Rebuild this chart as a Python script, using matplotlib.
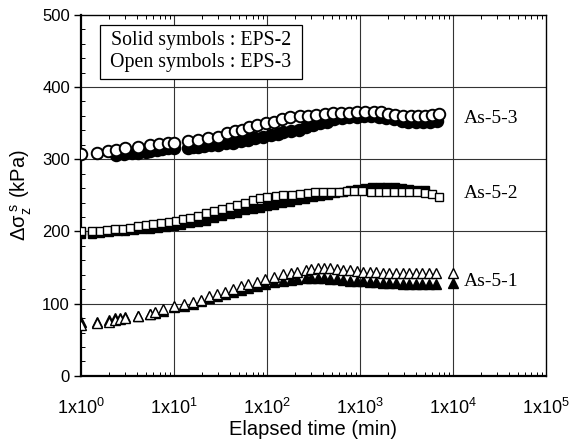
import matplotlib
matplotlib.use("Agg")
import matplotlib.pyplot as plt
from matplotlib.patches import Rectangle
from matplotlib.ticker import FixedLocator, LogLocator, MultipleLocator, NullFormatter

plt.rcParams["font.family"] = ["Liberation Sans", "DejaVu Sans"]
plt.rcParams["mathtext.fontset"] = "custom"
plt.rcParams["mathtext.rm"] = "Liberation Sans"
plt.rcParams["mathtext.it"] = "Liberation Sans:italic"
plt.rcParams["mathtext.default"] = "regular"

# ---- As-5-3 (circles) ----
t_53_eps3 = [1, 1.5, 1.95, 2.4, 3.0, 4.1, 5.5, 6.9, 8.6, 10, 14, 18, 23, 30, 37, 45, 54, 64,
             78, 98, 120, 145, 175, 225, 275, 340, 420, 510, 620, 760, 920, 1130, 1400, 1700,
             2000, 2400, 2900, 3500, 4200, 5000, 6000, 7000]
s_53_eps3 = [307, 309, 312, 313, 315, 317, 319, 321, 322, 323, 325, 327, 329, 331, 336, 339, 341, 344,
             347, 350, 351, 355, 358, 360, 360, 361, 362, 364, 364, 364, 365, 365, 366, 365,
             363, 361, 360, 360, 360, 360, 361, 362]
t_53_eps2 = [2.4, 2.9, 3.5, 4.1, 5.0, 5.5, 6.5, 7.5, 8.6, 10, 14, 16, 18, 21, 25, 30, 36, 43, 52,
             62, 75, 90, 110, 130, 150, 180, 220, 260, 310, 370, 440, 530, 640, 770, 920, 1100,
             1300, 1600, 1900, 2300, 2800, 3300, 4000, 4800, 5700, 6800]
s_53_eps2 = [306, 307, 308, 309, 310, 312, 313, 314, 315, 316, 316, 317, 317, 318, 319, 320, 322, 323, 325,
             327, 329, 331, 333, 335, 337, 339, 341, 344, 347, 350, 352, 355, 357, 358, 359, 360,
             360, 359, 357, 355, 353, 352, 351, 351, 352, 353]

# ---- As-5-2 (squares) ----
t_52_eps3 = [1, 1.3, 1.6, 1.9, 2.3, 2.8, 3.4, 4.1, 5, 6, 7.3, 8.8, 10.5, 12.5, 15, 18, 22, 27, 33,
             40, 48, 58, 70, 85, 100, 125, 150, 185, 225, 275, 330, 400, 490, 600, 720, 870, 1050,
             1300, 1600, 1900, 2300, 2800, 3400, 4100, 5000, 6000, 7000]
s_52_eps3 = [200, 200, 201, 202, 203, 204, 205, 207, 209, 210, 212, 213, 215, 217, 219, 222, 225, 228, 231,
             234, 237, 240, 243, 246, 248, 249, 250, 251, 252, 253, 254, 254, 255, 255, 256, 256, 256,
             255, 255, 254, 254, 255, 254, 254, 253, 252, 248]
t_52_eps2 = [1, 1.3, 1.6, 2, 2.5, 3, 3.7, 4.5, 5.5, 6.7, 8.2, 10, 12, 15, 18, 22, 27, 33, 40, 48,
             58, 70, 85, 100, 120, 145, 175, 210, 255, 310, 370, 450, 540, 650, 780, 940, 1130,
             1360, 1640, 1970, 2370, 2850, 3400, 4100, 5000]
s_52_eps2 = [197, 197, 198, 199, 200, 201, 202, 203, 204, 205, 206, 207, 209, 211, 213, 215, 218, 221, 224, 226,
             229, 231, 233, 235, 237, 239, 241, 243, 245, 247, 249, 251, 253, 255, 257, 259, 260,
             261, 262, 262, 261, 260, 259, 258, 257]

# ---- As-5-1 (triangles) ----
t_51 = [1, 1.5, 2, 2.3, 2.6, 3, 4.1, 5.5, 6.3, 7.6, 10, 12.8, 16, 19.6, 24, 29, 35, 43, 52, 62,
        78, 95, 120, 150, 180, 210, 260, 300, 350, 410, 480, 560, 660, 780, 920, 1080, 1270,
        1500, 1760, 2070, 2440, 2870, 3380, 3980, 4690, 5520, 6500, 10000]
s_51_eps3 = [71, 73, 75, 78, 79, 80, 83, 86, 88, 92, 97, 99, 102, 105, 111, 113, 116, 120, 124, 127,
             130, 134, 137, 141, 143, 144, 146, 148, 149, 150, 149, 148, 147, 146, 145, 144, 144,
             144, 143, 143, 143, 143, 143, 143, 143, 143, 143, 143]
s_51_eps2 = [74, 75, 77, 80, 80, 81, 83, 85, 87, 90, 95, 97, 100, 103, 108, 110, 113, 116, 119, 122,
             125, 127, 130, 132, 133, 134, 135, 135, 135, 135, 134, 134, 133, 132, 132, 131, 130,
             130, 129, 128, 128, 127, 127, 127, 127, 127, 127, 128]

curve_labels = ["As-5-3", "As-5-2", "As-5-1"]
curve_label_y = [357, 253, 130]
note_lines = ["Solid symbols : EPS-2", "Open symbols : EPS-3"]

x_ticks = [1e0, 1e1, 1e2, 1e3, 1e4, 1e5]
x_ticklabels = [r"1x10$^{%d}$" % k for k in range(6)]
y_ticks = [0, 100, 200, 300, 400, 500]

fig = plt.figure(figsize=(5.71, 4.48), dpi=100)
ax = fig.add_axes([0.142, 0.161, 0.814, 0.806])
ax.set_xscale("log")
ax.set_xlim(1, 1e5)
ax.set_ylim(0, 500)

# grid at every decade and every 100 kPa
for xv in x_ticks[1:-1]:
    ax.axvline(xv, color="0.2", lw=0.8, zorder=1)
for yv in y_ticks[1:-1]:
    ax.axhline(yv, color="0.2", lw=0.8, zorder=1)

solid = dict(ls="none", color="black", mfc="black", mec="black", zorder=3)
open_ = dict(ls="none", color="black", mfc="white", mec="black", zorder=4)

ax.plot(t_53_eps2, s_53_eps2, marker="o", ms=8.3, mew=1.4, **solid)
ax.plot(t_53_eps3, s_53_eps3, marker="o", ms=8.3, mew=1.4, **open_)
ax.plot(t_52_eps2, s_52_eps2, marker="s", ms=6.3, mew=1.0, **solid)
ax.plot(t_52_eps3, s_52_eps3, marker="s", ms=6.3, mew=1.0, **open_)
ax.plot(t_51, s_51_eps2, marker="^", ms=6.8, mew=1.0, **solid)
ax.plot(t_51, s_51_eps3, marker="^", ms=6.8, mew=1.0, **open_)

for lab, yv in zip(curve_labels, curve_label_y):
    ax.text(1.3e4, yv, lab, family=["Liberation Serif"], fontsize=14, va="center", ha="left", zorder=5)

# note box in the upper-left corner
ax.add_patch(Rectangle((0.041, 0.823), 0.434, 0.149, transform=ax.transAxes,
                       fill=True, fc="white", ec="black", lw=0.9, zorder=5))
for i, line in enumerate(note_lines):
    ax.text(0.258, 0.928 - i * 0.061, line, transform=ax.transAxes, family=["Liberation Serif"],
            fontsize=14.3, ha="center", va="center", zorder=6)

ax.xaxis.set_major_locator(FixedLocator(x_ticks))
ax.set_xticklabels(x_ticklabels)
ax.xaxis.set_minor_locator(LogLocator(base=10, subs=range(2, 10), numticks=20))
ax.xaxis.set_minor_formatter(NullFormatter())
ax.yaxis.set_major_locator(FixedLocator(y_ticks))
ax.yaxis.set_minor_locator(MultipleLocator(20))

ax.tick_params(axis="x", which="major", direction="in", length=0, pad=16, labelsize=13)
ax.tick_params(axis="x", which="minor", direction="in", length=3, width=0.7, top=True)
ax.tick_params(axis="y", which="major", direction="out", length=5, width=1.0, pad=3, labelsize=12)
ax.tick_params(axis="y", which="minor", direction="in", length=3, width=0.7)

for side in ["left", "bottom"]:
    ax.spines[side].set_linewidth(1.6)
for side in ["top", "right"]:
    ax.spines[side].set_linewidth(1.0)

ax.set_xlabel("Elapsed time (min)", fontsize=14.5, labelpad=1)
ax.set_ylabel(r"$\Delta\sigma_{z}^{\ s}$ (kPa)", fontsize=14.5, labelpad=6)

fig.savefig("out.png", dpi=100)
